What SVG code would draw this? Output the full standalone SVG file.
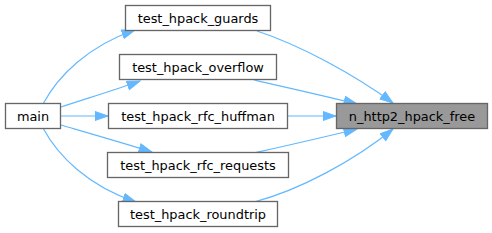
<svg xmlns="http://www.w3.org/2000/svg" width="492" height="233" viewBox="0 0 492 233">
<style>
.n rect{fill:#ffffff;stroke:#666666;stroke-width:1.33}
.n.h rect{fill:#999999}
.n text{font-family:"DejaVu Sans",sans-serif;font-size:12.9px;fill:#000000;text-anchor:middle}
.e path{fill:none;stroke:#63b8ff;stroke-width:1.2;marker-end:url(#ah)}
</style>
<defs>
<marker id="ah" markerUnits="userSpaceOnUse" markerWidth="15" markerHeight="11" refX="13.5" refY="5" orient="auto">
<polygon points="0.5,0.5 13.5,5 0.5,9.5" fill="#63b8ff" stroke="#63b8ff" stroke-width="1"/>
</marker>
</defs>
<rect width="492" height="233" fill="#ffffff"/>
<g id="edges" class="e">
<path d="M43,104 C58,76 88,46 135,30"/>
<path d="M61,107 C85,99 115,90 140,81"/>
<path d="M61,116 L108,116"/>
<path d="M61,125 C85,132 120,142 152,152"/>
<path d="M43,128 C58,156 88,186 136,202"/>
<path d="M257,31 C300,45 355,75 393,103"/>
<path d="M254,80 C285,87 325,96 357,104"/>
<path d="M287,116 L336,116"/>
<path d="M254,153 C285,146 325,137 357,129"/>
<path d="M254,202 C300,190 355,160 393,129"/>
</g>
<g id="main" class="n"><rect x="5.5" y="103.5" width="55" height="25"/><text x="33" y="120.5">main</text></g>
<g id="guards" class="n"><rect x="125.5" y="5.5" width="145" height="25"/><text x="198" y="22.5">test_hpack_guards</text></g>
<g id="overflow" class="n"><rect x="119.5" y="54.5" width="157" height="25"/><text x="198" y="71.5">test_hpack_overflow</text></g>
<g id="huffman" class="n"><rect x="108.5" y="103.5" width="179" height="25"/><text x="198" y="120.5">test_hpack_rfc_huffman</text></g>
<g id="requests" class="n"><rect x="107.5" y="152.5" width="181" height="25"/><text x="198" y="169.5">test_hpack_rfc_requests</text></g>
<g id="roundtrip" class="n"><rect x="118.5" y="201.5" width="159" height="25"/><text x="198" y="218.5">test_hpack_roundtrip</text></g>
<g id="free" class="n h"><rect x="336.5" y="103.5" width="151" height="25"/><text x="412" y="120.5">n_http2_hpack_free</text></g>
</svg>
